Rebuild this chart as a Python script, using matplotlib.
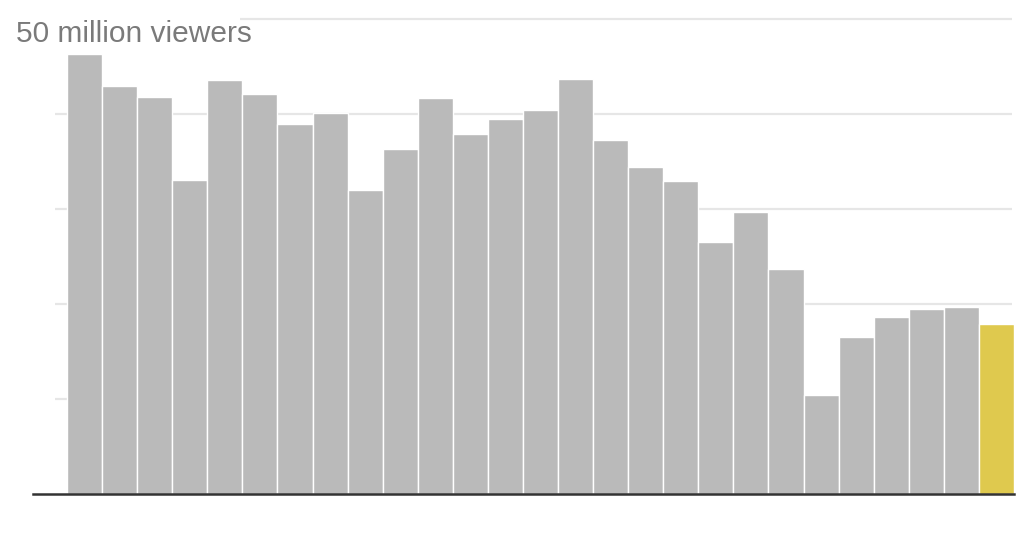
import matplotlib
matplotlib.use("Agg")
import matplotlib.pyplot as plt

years = list(range(2000, 2027))
viewers = [46.3, 42.9, 41.8, 33.0, 43.5, 42.1, 38.9, 40.1, 32.0, 36.3,
           41.7, 37.9, 39.4, 40.4, 43.7, 37.2, 34.4, 32.9, 26.5, 29.6,
           23.6, 10.4, 16.5, 18.6, 19.4, 19.6, 17.9]
grid_values = [10, 20, 30, 40, 50]
label_text = "50 million viewers"

W, H = 1024, 535
fig = plt.figure(figsize=(W / 100, H / 100), dpi=100)
left_px, right_px = 33, 1014
bottom_px, top_px = 493.7, 18.7
ax = fig.add_axes([left_px / W, (H - bottom_px) / H,
                   (right_px - left_px) / W, (bottom_px - top_px) / H])

n = len(viewers)
bar_w_px = (1014 - 67) / n
xmin = (left_px - 67) / bar_w_px
ax.set_xlim(xmin, n)
ax.set_ylim(0, 50)

colors = ["#bababa"] * (n - 1) + ["#dfc94e"]
ax.bar(range(n), viewers, width=1.0, align="edge", color=colors,
       edgecolor="white", linewidth=1.0, zorder=2)

# gridlines
g_start = (55 - 67) / bar_w_px
g_start_top = (240 - 67) / bar_w_px
for g in grid_values:
    s = g_start_top if g == 50 else g_start
    ax.hlines(g, s, n - 0.05, color="#e6e6e6", linewidth=1.6, zorder=1,
              clip_on=False)

ax.axhline(0, color="#333333", linewidth=1.8, zorder=3, clip_on=False)

for sp in ax.spines.values():
    sp.set_visible(False)
ax.set_xticks([])
ax.set_yticks([])

fig.text(16 / W, (H - 42.3) / H, label_text, fontsize=21.5,
         family="Liberation Sans", color="#7a7a7a", va="baseline", ha="left")

fig.savefig("out.png", dpi=100)
